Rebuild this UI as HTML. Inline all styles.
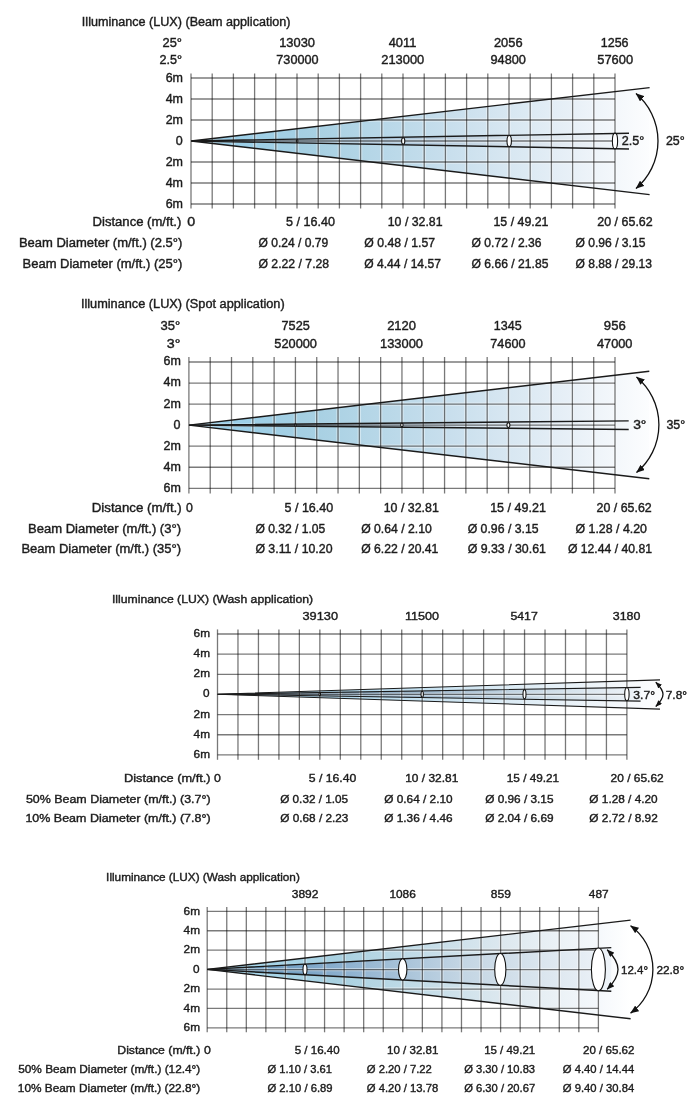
<!DOCTYPE html>
<html><head><meta charset="utf-8"><title>Illuminance charts</title>
<style>html,body{margin:0;padding:0;background:#fff;}
svg{display:block;}
text.s{font-size:11.8px;}
text{font-family:"Liberation Sans",Arial,sans-serif;font-size:12.5px;fill:#1c1c1c;stroke:#1c1c1c;stroke-width:0.4px;}
.gh{stroke:#000;stroke-opacity:0.52;stroke-width:1.3;}
.gv{stroke:#000;stroke-opacity:0.53;stroke-width:1.3;}
.halo line{stroke:#fff;stroke-width:3.4;stroke-opacity:0.4;}
.cl{stroke:#1a1a1a;fill:none;stroke-linejoin:miter;}
.el{fill:#fff;stroke:#111;stroke-width:1.1;}
.arc{stroke:#111;stroke-width:1.3;fill:none;}</style></head>
<body><svg width="700" height="1113" viewBox="0 0 700 1113">
<defs>
<linearGradient id="g1" gradientUnits="userSpaceOnUse" x1="190" y1="0" x2="650" y2="0">
<stop offset="0" stop-color="#96cbe6"/><stop offset="0.1" stop-color="#9ccfe8"/><stop offset="0.25" stop-color="#a5cfe2"/><stop offset="0.57" stop-color="#c9dfed"/><stop offset="0.83" stop-color="#e8f0f7"/><stop offset="0.92" stop-color="#f3f7fb"/><stop offset="1" stop-color="#fcfdfe"/></linearGradient>
<linearGradient id="ig1" gradientUnits="userSpaceOnUse" x1="190" y1="0" x2="630" y2="0">
<stop offset="0" stop-color="#7ea6c4"/><stop offset="0.4" stop-color="#9dbbd2"/><stop offset="0.75" stop-color="#d6e2ec"/><stop offset="1" stop-color="#f4f7fa"/></linearGradient>
<linearGradient id="g3" gradientUnits="userSpaceOnUse" x1="217" y1="0" x2="660" y2="0">
<stop offset="0" stop-color="#8cbcd8"/><stop offset="0.3" stop-color="#b3d9ed"/><stop offset="0.6" stop-color="#d6e8f3"/><stop offset="0.9" stop-color="#f3f7fb"/><stop offset="1" stop-color="#fcfdfe"/></linearGradient>
<linearGradient id="ig3" gradientUnits="userSpaceOnUse" x1="217" y1="0" x2="640" y2="0">
<stop offset="0" stop-color="#5a7f9e"/><stop offset="0.35" stop-color="#7b9cb8"/><stop offset="0.7" stop-color="#c2d4e2"/><stop offset="1" stop-color="#eef3f8"/></linearGradient>
<linearGradient id="g4" gradientUnits="userSpaceOnUse" x1="207" y1="0" x2="631" y2="0">
<stop offset="0" stop-color="#a6daf1"/><stop offset="0.3" stop-color="#a8d0e0"/><stop offset="0.7" stop-color="#dde8ef"/><stop offset="0.93" stop-color="#f6f9fc"/><stop offset="1" stop-color="#ffffff"/></linearGradient>
<linearGradient id="ig4" gradientUnits="userSpaceOnUse" x1="207" y1="0" x2="611" y2="0">
<stop offset="0" stop-color="#5a8cb4"/><stop offset="0.12" stop-color="#6496bc"/><stop offset="0.35" stop-color="#8fb2d0"/><stop offset="0.63" stop-color="#c3d5e3"/><stop offset="1" stop-color="#eef3f8"/></linearGradient>
<marker id="ah" viewBox="0 0 10 8" refX="9.5" refY="4" markerWidth="8.5" markerHeight="6.8" orient="auto-start-reverse" markerUnits="userSpaceOnUse"><path d="M0,0 L10,4 L0,8 z" fill="#111"/></marker>
<marker id="ah2" viewBox="0 0 10 8" refX="9.5" refY="4" markerWidth="7.5" markerHeight="6" orient="auto-start-reverse" markerUnits="userSpaceOnUse"><path d="M0,0 L10,4 L0,8 z" fill="#111"/></marker>
<marker id="ah3" viewBox="0 0 10 8" refX="9.5" refY="4" markerWidth="6.5" markerHeight="5.2" orient="auto-start-reverse" markerUnits="userSpaceOnUse"><path d="M0,0 L10,4 L0,8 z" fill="#111"/></marker>
</defs>
<rect width="700" height="1113" fill="#fff"/>
<clipPath id="cp0"><polygon points="191.20,141.00 649.60,87.60 649.60,194.60"/></clipPath>
<polygon points="191.20,141.00 649.60,87.60 649.60,194.60" fill="url(#g1)" stroke="none"/>
<polygon points="191.20,141.00 629.00,133.20 629.00,149.00" fill="url(#ig1)" stroke="none"/>
<g clip-path="url(#cp0)" class="halo">
<line x1="191.00" y1="78.00" x2="615.00" y2="78.00" class="gh"/>
<line x1="191.00" y1="99.00" x2="615.00" y2="99.00" class="gh"/>
<line x1="191.00" y1="120.00" x2="615.00" y2="120.00" class="gh"/>
<line x1="191.00" y1="141.00" x2="615.00" y2="141.00" class="gh"/>
<line x1="191.00" y1="162.00" x2="615.00" y2="162.00" class="gh"/>
<line x1="191.00" y1="183.00" x2="615.00" y2="183.00" class="gh"/>
<line x1="191.00" y1="204.00" x2="615.00" y2="204.00" class="gh"/>
<line x1="191.00" y1="73.50" x2="191.00" y2="208.50" class="gv"/>
<line x1="212.20" y1="73.50" x2="212.20" y2="208.50" class="gv"/>
<line x1="233.40" y1="73.50" x2="233.40" y2="208.50" class="gv"/>
<line x1="254.60" y1="73.50" x2="254.60" y2="208.50" class="gv"/>
<line x1="275.80" y1="73.50" x2="275.80" y2="208.50" class="gv"/>
<line x1="297.00" y1="73.50" x2="297.00" y2="208.50" class="gv"/>
<line x1="318.20" y1="73.50" x2="318.20" y2="208.50" class="gv"/>
<line x1="339.40" y1="73.50" x2="339.40" y2="208.50" class="gv"/>
<line x1="360.60" y1="73.50" x2="360.60" y2="208.50" class="gv"/>
<line x1="381.80" y1="73.50" x2="381.80" y2="208.50" class="gv"/>
<line x1="403.00" y1="73.50" x2="403.00" y2="208.50" class="gv"/>
<line x1="424.20" y1="73.50" x2="424.20" y2="208.50" class="gv"/>
<line x1="445.40" y1="73.50" x2="445.40" y2="208.50" class="gv"/>
<line x1="466.60" y1="73.50" x2="466.60" y2="208.50" class="gv"/>
<line x1="487.80" y1="73.50" x2="487.80" y2="208.50" class="gv"/>
<line x1="509.00" y1="73.50" x2="509.00" y2="208.50" class="gv"/>
<line x1="530.20" y1="73.50" x2="530.20" y2="208.50" class="gv"/>
<line x1="551.40" y1="73.50" x2="551.40" y2="208.50" class="gv"/>
<line x1="572.60" y1="73.50" x2="572.60" y2="208.50" class="gv"/>
<line x1="593.80" y1="73.50" x2="593.80" y2="208.50" class="gv"/>
<line x1="615.00" y1="73.50" x2="615.00" y2="208.50" class="gv"/>
</g>
<line x1="191.00" y1="78.00" x2="615.00" y2="78.00" class="gh"/>
<line x1="191.00" y1="99.00" x2="615.00" y2="99.00" class="gh"/>
<line x1="191.00" y1="120.00" x2="615.00" y2="120.00" class="gh"/>
<line x1="191.00" y1="141.00" x2="615.00" y2="141.00" class="gh"/>
<line x1="191.00" y1="162.00" x2="615.00" y2="162.00" class="gh"/>
<line x1="191.00" y1="183.00" x2="615.00" y2="183.00" class="gh"/>
<line x1="191.00" y1="204.00" x2="615.00" y2="204.00" class="gh"/>
<line x1="191.00" y1="73.50" x2="191.00" y2="208.50" class="gv"/>
<line x1="212.20" y1="73.50" x2="212.20" y2="208.50" class="gv"/>
<line x1="233.40" y1="73.50" x2="233.40" y2="208.50" class="gv"/>
<line x1="254.60" y1="73.50" x2="254.60" y2="208.50" class="gv"/>
<line x1="275.80" y1="73.50" x2="275.80" y2="208.50" class="gv"/>
<line x1="297.00" y1="73.50" x2="297.00" y2="208.50" class="gv"/>
<line x1="318.20" y1="73.50" x2="318.20" y2="208.50" class="gv"/>
<line x1="339.40" y1="73.50" x2="339.40" y2="208.50" class="gv"/>
<line x1="360.60" y1="73.50" x2="360.60" y2="208.50" class="gv"/>
<line x1="381.80" y1="73.50" x2="381.80" y2="208.50" class="gv"/>
<line x1="403.00" y1="73.50" x2="403.00" y2="208.50" class="gv"/>
<line x1="424.20" y1="73.50" x2="424.20" y2="208.50" class="gv"/>
<line x1="445.40" y1="73.50" x2="445.40" y2="208.50" class="gv"/>
<line x1="466.60" y1="73.50" x2="466.60" y2="208.50" class="gv"/>
<line x1="487.80" y1="73.50" x2="487.80" y2="208.50" class="gv"/>
<line x1="509.00" y1="73.50" x2="509.00" y2="208.50" class="gv"/>
<line x1="530.20" y1="73.50" x2="530.20" y2="208.50" class="gv"/>
<line x1="551.40" y1="73.50" x2="551.40" y2="208.50" class="gv"/>
<line x1="572.60" y1="73.50" x2="572.60" y2="208.50" class="gv"/>
<line x1="593.80" y1="73.50" x2="593.80" y2="208.50" class="gv"/>
<line x1="615.00" y1="73.50" x2="615.00" y2="208.50" class="gv"/>
<path d="M649.60,87.60 L191.20,141.00 L649.60,194.60" class="cl" stroke-width="1.45"/>
<path d="M629.00,133.20 L191.20,141.00 L629.00,149.00" class="cl" stroke-width="1.45"/>
<ellipse cx="297.10" cy="141.00" rx="0.80" ry="1.40" class="el"/>
<ellipse cx="403.20" cy="141.00" rx="1.60" ry="3.20" class="el"/>
<ellipse cx="509.20" cy="141.00" rx="2.20" ry="5.50" class="el"/>
<ellipse cx="615.00" cy="141.00" rx="2.60" ry="7.90" class="el"/>
<path d="M636.00,93.60 A62.17,62.17 0 0 1 636.00,188.50" class="arc" marker-start="url(#ah)" marker-end="url(#ah)"/>
<clipPath id="cp1"><polygon points="189.00,425.10 649.30,371.30 649.30,478.70"/></clipPath>
<polygon points="189.00,425.10 649.30,371.30 649.30,478.70" fill="url(#g1)" stroke="none"/>
<polygon points="189.00,425.10 628.70,420.90 628.70,429.50" fill="url(#ig1)" stroke="none"/>
<g clip-path="url(#cp1)" class="halo">
<line x1="188.90" y1="362.00" x2="615.00" y2="362.00" class="gh"/>
<line x1="188.90" y1="383.05" x2="615.00" y2="383.05" class="gh"/>
<line x1="188.90" y1="404.10" x2="615.00" y2="404.10" class="gh"/>
<line x1="188.90" y1="425.15" x2="615.00" y2="425.15" class="gh"/>
<line x1="188.90" y1="446.20" x2="615.00" y2="446.20" class="gh"/>
<line x1="188.90" y1="467.25" x2="615.00" y2="467.25" class="gh"/>
<line x1="188.90" y1="488.30" x2="615.00" y2="488.30" class="gh"/>
<line x1="188.90" y1="357.00" x2="188.90" y2="493.50" class="gv"/>
<line x1="210.21" y1="357.00" x2="210.21" y2="493.50" class="gv"/>
<line x1="231.51" y1="357.00" x2="231.51" y2="493.50" class="gv"/>
<line x1="252.81" y1="357.00" x2="252.81" y2="493.50" class="gv"/>
<line x1="274.12" y1="357.00" x2="274.12" y2="493.50" class="gv"/>
<line x1="295.43" y1="357.00" x2="295.43" y2="493.50" class="gv"/>
<line x1="316.73" y1="357.00" x2="316.73" y2="493.50" class="gv"/>
<line x1="338.03" y1="357.00" x2="338.03" y2="493.50" class="gv"/>
<line x1="359.34" y1="357.00" x2="359.34" y2="493.50" class="gv"/>
<line x1="380.64" y1="357.00" x2="380.64" y2="493.50" class="gv"/>
<line x1="401.95" y1="357.00" x2="401.95" y2="493.50" class="gv"/>
<line x1="423.25" y1="357.00" x2="423.25" y2="493.50" class="gv"/>
<line x1="444.56" y1="357.00" x2="444.56" y2="493.50" class="gv"/>
<line x1="465.87" y1="357.00" x2="465.87" y2="493.50" class="gv"/>
<line x1="487.17" y1="357.00" x2="487.17" y2="493.50" class="gv"/>
<line x1="508.48" y1="357.00" x2="508.48" y2="493.50" class="gv"/>
<line x1="529.78" y1="357.00" x2="529.78" y2="493.50" class="gv"/>
<line x1="551.09" y1="357.00" x2="551.09" y2="493.50" class="gv"/>
<line x1="572.39" y1="357.00" x2="572.39" y2="493.50" class="gv"/>
<line x1="593.70" y1="357.00" x2="593.70" y2="493.50" class="gv"/>
<line x1="615.00" y1="357.00" x2="615.00" y2="493.50" class="gv"/>
</g>
<line x1="188.90" y1="362.00" x2="615.00" y2="362.00" class="gh"/>
<line x1="188.90" y1="383.05" x2="615.00" y2="383.05" class="gh"/>
<line x1="188.90" y1="404.10" x2="615.00" y2="404.10" class="gh"/>
<line x1="188.90" y1="425.15" x2="615.00" y2="425.15" class="gh"/>
<line x1="188.90" y1="446.20" x2="615.00" y2="446.20" class="gh"/>
<line x1="188.90" y1="467.25" x2="615.00" y2="467.25" class="gh"/>
<line x1="188.90" y1="488.30" x2="615.00" y2="488.30" class="gh"/>
<line x1="188.90" y1="357.00" x2="188.90" y2="493.50" class="gv"/>
<line x1="210.21" y1="357.00" x2="210.21" y2="493.50" class="gv"/>
<line x1="231.51" y1="357.00" x2="231.51" y2="493.50" class="gv"/>
<line x1="252.81" y1="357.00" x2="252.81" y2="493.50" class="gv"/>
<line x1="274.12" y1="357.00" x2="274.12" y2="493.50" class="gv"/>
<line x1="295.43" y1="357.00" x2="295.43" y2="493.50" class="gv"/>
<line x1="316.73" y1="357.00" x2="316.73" y2="493.50" class="gv"/>
<line x1="338.03" y1="357.00" x2="338.03" y2="493.50" class="gv"/>
<line x1="359.34" y1="357.00" x2="359.34" y2="493.50" class="gv"/>
<line x1="380.64" y1="357.00" x2="380.64" y2="493.50" class="gv"/>
<line x1="401.95" y1="357.00" x2="401.95" y2="493.50" class="gv"/>
<line x1="423.25" y1="357.00" x2="423.25" y2="493.50" class="gv"/>
<line x1="444.56" y1="357.00" x2="444.56" y2="493.50" class="gv"/>
<line x1="465.87" y1="357.00" x2="465.87" y2="493.50" class="gv"/>
<line x1="487.17" y1="357.00" x2="487.17" y2="493.50" class="gv"/>
<line x1="508.48" y1="357.00" x2="508.48" y2="493.50" class="gv"/>
<line x1="529.78" y1="357.00" x2="529.78" y2="493.50" class="gv"/>
<line x1="551.09" y1="357.00" x2="551.09" y2="493.50" class="gv"/>
<line x1="572.39" y1="357.00" x2="572.39" y2="493.50" class="gv"/>
<line x1="593.70" y1="357.00" x2="593.70" y2="493.50" class="gv"/>
<line x1="615.00" y1="357.00" x2="615.00" y2="493.50" class="gv"/>
<path d="M649.30,371.30 L189.00,425.10 L649.30,478.70" class="cl" stroke-width="1.45"/>
<path d="M628.70,420.90 L189.00,425.10 L628.70,429.50" class="cl" stroke-width="1.45"/>
<ellipse cx="295.40" cy="425.10" rx="0.80" ry="1.20" class="el"/>
<ellipse cx="401.90" cy="425.10" rx="1.20" ry="1.80" class="el"/>
<ellipse cx="508.40" cy="425.10" rx="1.50" ry="2.40" class="el"/>
<path d="M636.50,377.00 A62.09,62.09 0 0 1 636.50,472.50" class="arc" marker-start="url(#ah)" marker-end="url(#ah)"/>
<clipPath id="cp2"><polygon points="217.50,694.20 660.00,679.90 660.00,709.10"/></clipPath>
<polygon points="217.50,694.20 660.00,679.90 660.00,709.10" fill="url(#g3)" stroke="none"/>
<polygon points="217.50,694.20 640.60,687.40 640.60,701.10" fill="url(#ig3)" stroke="none"/>
<g clip-path="url(#cp2)" class="halo">
<line x1="217.50" y1="634.00" x2="626.90" y2="634.00" class="gh"/>
<line x1="217.50" y1="654.15" x2="626.90" y2="654.15" class="gh"/>
<line x1="217.50" y1="674.30" x2="626.90" y2="674.30" class="gh"/>
<line x1="217.50" y1="694.45" x2="626.90" y2="694.45" class="gh"/>
<line x1="217.50" y1="714.60" x2="626.90" y2="714.60" class="gh"/>
<line x1="217.50" y1="734.75" x2="626.90" y2="734.75" class="gh"/>
<line x1="217.50" y1="754.90" x2="626.90" y2="754.90" class="gh"/>
<line x1="217.50" y1="629.40" x2="217.50" y2="759.80" class="gv"/>
<line x1="237.97" y1="629.40" x2="237.97" y2="759.80" class="gv"/>
<line x1="258.44" y1="629.40" x2="258.44" y2="759.80" class="gv"/>
<line x1="278.91" y1="629.40" x2="278.91" y2="759.80" class="gv"/>
<line x1="299.38" y1="629.40" x2="299.38" y2="759.80" class="gv"/>
<line x1="319.85" y1="629.40" x2="319.85" y2="759.80" class="gv"/>
<line x1="340.32" y1="629.40" x2="340.32" y2="759.80" class="gv"/>
<line x1="360.79" y1="629.40" x2="360.79" y2="759.80" class="gv"/>
<line x1="381.26" y1="629.40" x2="381.26" y2="759.80" class="gv"/>
<line x1="401.73" y1="629.40" x2="401.73" y2="759.80" class="gv"/>
<line x1="422.20" y1="629.40" x2="422.20" y2="759.80" class="gv"/>
<line x1="442.67" y1="629.40" x2="442.67" y2="759.80" class="gv"/>
<line x1="463.14" y1="629.40" x2="463.14" y2="759.80" class="gv"/>
<line x1="483.61" y1="629.40" x2="483.61" y2="759.80" class="gv"/>
<line x1="504.08" y1="629.40" x2="504.08" y2="759.80" class="gv"/>
<line x1="524.55" y1="629.40" x2="524.55" y2="759.80" class="gv"/>
<line x1="545.02" y1="629.40" x2="545.02" y2="759.80" class="gv"/>
<line x1="565.49" y1="629.40" x2="565.49" y2="759.80" class="gv"/>
<line x1="585.96" y1="629.40" x2="585.96" y2="759.80" class="gv"/>
<line x1="606.43" y1="629.40" x2="606.43" y2="759.80" class="gv"/>
<line x1="626.90" y1="629.40" x2="626.90" y2="759.80" class="gv"/>
</g>
<line x1="217.50" y1="634.00" x2="626.90" y2="634.00" class="gh"/>
<line x1="217.50" y1="654.15" x2="626.90" y2="654.15" class="gh"/>
<line x1="217.50" y1="674.30" x2="626.90" y2="674.30" class="gh"/>
<line x1="217.50" y1="694.45" x2="626.90" y2="694.45" class="gh"/>
<line x1="217.50" y1="714.60" x2="626.90" y2="714.60" class="gh"/>
<line x1="217.50" y1="734.75" x2="626.90" y2="734.75" class="gh"/>
<line x1="217.50" y1="754.90" x2="626.90" y2="754.90" class="gh"/>
<line x1="217.50" y1="629.40" x2="217.50" y2="759.80" class="gv"/>
<line x1="237.97" y1="629.40" x2="237.97" y2="759.80" class="gv"/>
<line x1="258.44" y1="629.40" x2="258.44" y2="759.80" class="gv"/>
<line x1="278.91" y1="629.40" x2="278.91" y2="759.80" class="gv"/>
<line x1="299.38" y1="629.40" x2="299.38" y2="759.80" class="gv"/>
<line x1="319.85" y1="629.40" x2="319.85" y2="759.80" class="gv"/>
<line x1="340.32" y1="629.40" x2="340.32" y2="759.80" class="gv"/>
<line x1="360.79" y1="629.40" x2="360.79" y2="759.80" class="gv"/>
<line x1="381.26" y1="629.40" x2="381.26" y2="759.80" class="gv"/>
<line x1="401.73" y1="629.40" x2="401.73" y2="759.80" class="gv"/>
<line x1="422.20" y1="629.40" x2="422.20" y2="759.80" class="gv"/>
<line x1="442.67" y1="629.40" x2="442.67" y2="759.80" class="gv"/>
<line x1="463.14" y1="629.40" x2="463.14" y2="759.80" class="gv"/>
<line x1="483.61" y1="629.40" x2="483.61" y2="759.80" class="gv"/>
<line x1="504.08" y1="629.40" x2="504.08" y2="759.80" class="gv"/>
<line x1="524.55" y1="629.40" x2="524.55" y2="759.80" class="gv"/>
<line x1="545.02" y1="629.40" x2="545.02" y2="759.80" class="gv"/>
<line x1="565.49" y1="629.40" x2="565.49" y2="759.80" class="gv"/>
<line x1="585.96" y1="629.40" x2="585.96" y2="759.80" class="gv"/>
<line x1="606.43" y1="629.40" x2="606.43" y2="759.80" class="gv"/>
<line x1="626.90" y1="629.40" x2="626.90" y2="759.80" class="gv"/>
<path d="M660.00,679.90 L217.50,694.20 L660.00,709.10" class="cl" stroke-width="1.1"/>
<path d="M640.60,687.40 L217.50,694.20 L640.60,701.10" class="cl" stroke-width="1.1"/>
<ellipse cx="319.80" cy="694.20" rx="0.80" ry="1.60" class="el"/>
<ellipse cx="422.20" cy="694.20" rx="1.20" ry="3.00" class="el"/>
<ellipse cx="524.50" cy="694.20" rx="1.50" ry="4.60" class="el"/>
<ellipse cx="626.90" cy="694.20" rx="2.20" ry="6.50" class="el"/>
<path d="M655.80,682.20 C665.40,691.80 665.40,696.90 655.80,706.50" class="arc" marker-start="url(#ah3)" marker-end="url(#ah3)"/>
<clipPath id="cp3"><polygon points="207.20,969.40 630.60,920.10 630.60,1018.80"/></clipPath>
<polygon points="207.20,969.40 630.60,920.10 630.60,1018.80" fill="url(#g4)" stroke="none"/>
<polygon points="207.20,969.40 611.30,947.60 611.30,991.30" fill="url(#ig4)" stroke="none"/>
<g clip-path="url(#cp3)" class="halo">
<line x1="207.20" y1="911.30" x2="598.40" y2="911.30" class="gh"/>
<line x1="207.20" y1="930.73" x2="598.40" y2="930.73" class="gh"/>
<line x1="207.20" y1="950.17" x2="598.40" y2="950.17" class="gh"/>
<line x1="207.20" y1="969.60" x2="598.40" y2="969.60" class="gh"/>
<line x1="207.20" y1="989.03" x2="598.40" y2="989.03" class="gh"/>
<line x1="207.20" y1="1008.47" x2="598.40" y2="1008.47" class="gh"/>
<line x1="207.20" y1="1027.90" x2="598.40" y2="1027.90" class="gh"/>
<line x1="207.20" y1="906.90" x2="207.20" y2="1032.30" class="gv"/>
<line x1="226.76" y1="906.90" x2="226.76" y2="1032.30" class="gv"/>
<line x1="246.32" y1="906.90" x2="246.32" y2="1032.30" class="gv"/>
<line x1="265.88" y1="906.90" x2="265.88" y2="1032.30" class="gv"/>
<line x1="285.44" y1="906.90" x2="285.44" y2="1032.30" class="gv"/>
<line x1="305.00" y1="906.90" x2="305.00" y2="1032.30" class="gv"/>
<line x1="324.56" y1="906.90" x2="324.56" y2="1032.30" class="gv"/>
<line x1="344.12" y1="906.90" x2="344.12" y2="1032.30" class="gv"/>
<line x1="363.68" y1="906.90" x2="363.68" y2="1032.30" class="gv"/>
<line x1="383.24" y1="906.90" x2="383.24" y2="1032.30" class="gv"/>
<line x1="402.80" y1="906.90" x2="402.80" y2="1032.30" class="gv"/>
<line x1="422.36" y1="906.90" x2="422.36" y2="1032.30" class="gv"/>
<line x1="441.92" y1="906.90" x2="441.92" y2="1032.30" class="gv"/>
<line x1="461.48" y1="906.90" x2="461.48" y2="1032.30" class="gv"/>
<line x1="481.04" y1="906.90" x2="481.04" y2="1032.30" class="gv"/>
<line x1="500.60" y1="906.90" x2="500.60" y2="1032.30" class="gv"/>
<line x1="520.16" y1="906.90" x2="520.16" y2="1032.30" class="gv"/>
<line x1="539.72" y1="906.90" x2="539.72" y2="1032.30" class="gv"/>
<line x1="559.28" y1="906.90" x2="559.28" y2="1032.30" class="gv"/>
<line x1="578.84" y1="906.90" x2="578.84" y2="1032.30" class="gv"/>
<line x1="598.40" y1="906.90" x2="598.40" y2="1032.30" class="gv"/>
</g>
<line x1="207.20" y1="911.30" x2="598.40" y2="911.30" class="gh"/>
<line x1="207.20" y1="930.73" x2="598.40" y2="930.73" class="gh"/>
<line x1="207.20" y1="950.17" x2="598.40" y2="950.17" class="gh"/>
<line x1="207.20" y1="969.60" x2="598.40" y2="969.60" class="gh"/>
<line x1="207.20" y1="989.03" x2="598.40" y2="989.03" class="gh"/>
<line x1="207.20" y1="1008.47" x2="598.40" y2="1008.47" class="gh"/>
<line x1="207.20" y1="1027.90" x2="598.40" y2="1027.90" class="gh"/>
<line x1="207.20" y1="906.90" x2="207.20" y2="1032.30" class="gv"/>
<line x1="226.76" y1="906.90" x2="226.76" y2="1032.30" class="gv"/>
<line x1="246.32" y1="906.90" x2="246.32" y2="1032.30" class="gv"/>
<line x1="265.88" y1="906.90" x2="265.88" y2="1032.30" class="gv"/>
<line x1="285.44" y1="906.90" x2="285.44" y2="1032.30" class="gv"/>
<line x1="305.00" y1="906.90" x2="305.00" y2="1032.30" class="gv"/>
<line x1="324.56" y1="906.90" x2="324.56" y2="1032.30" class="gv"/>
<line x1="344.12" y1="906.90" x2="344.12" y2="1032.30" class="gv"/>
<line x1="363.68" y1="906.90" x2="363.68" y2="1032.30" class="gv"/>
<line x1="383.24" y1="906.90" x2="383.24" y2="1032.30" class="gv"/>
<line x1="402.80" y1="906.90" x2="402.80" y2="1032.30" class="gv"/>
<line x1="422.36" y1="906.90" x2="422.36" y2="1032.30" class="gv"/>
<line x1="441.92" y1="906.90" x2="441.92" y2="1032.30" class="gv"/>
<line x1="461.48" y1="906.90" x2="461.48" y2="1032.30" class="gv"/>
<line x1="481.04" y1="906.90" x2="481.04" y2="1032.30" class="gv"/>
<line x1="500.60" y1="906.90" x2="500.60" y2="1032.30" class="gv"/>
<line x1="520.16" y1="906.90" x2="520.16" y2="1032.30" class="gv"/>
<line x1="539.72" y1="906.90" x2="539.72" y2="1032.30" class="gv"/>
<line x1="559.28" y1="906.90" x2="559.28" y2="1032.30" class="gv"/>
<line x1="578.84" y1="906.90" x2="578.84" y2="1032.30" class="gv"/>
<line x1="598.40" y1="906.90" x2="598.40" y2="1032.30" class="gv"/>
<path d="M630.60,920.10 L207.20,969.40 L630.60,1018.80" class="cl" stroke-width="1.45"/>
<path d="M611.30,947.60 L207.20,969.40 L611.30,991.30" class="cl" stroke-width="1.45"/>
<ellipse cx="305.00" cy="969.40" rx="2.00" ry="5.20" class="el"/>
<ellipse cx="402.70" cy="969.40" rx="4.20" ry="10.60" class="el"/>
<ellipse cx="500.30" cy="969.40" rx="5.60" ry="15.90" class="el"/>
<ellipse cx="598.40" cy="969.40" rx="7.00" ry="21.40" class="el"/>
<path d="M607.20,949.80 C621.60,964.20 621.60,974.80 607.20,989.20" class="arc" marker-start="url(#ah2)" marker-end="url(#ah2)"/>
<path d="M630.60,925.70 A53.97,53.97 0 0 1 630.60,1013.10" class="arc" marker-start="url(#ah)" marker-end="url(#ah)"/>
<text x="165.66" y="81.50" textLength="17.36" lengthAdjust="spacingAndGlyphs">6m</text>
<text x="165.66" y="102.50" textLength="17.36" lengthAdjust="spacingAndGlyphs">4m</text>
<text x="165.66" y="123.50" textLength="17.36" lengthAdjust="spacingAndGlyphs">2m</text>
<text x="175.74" y="144.50" textLength="6.95" lengthAdjust="spacingAndGlyphs">0</text>
<text x="165.66" y="165.50" textLength="17.36" lengthAdjust="spacingAndGlyphs">2m</text>
<text x="165.66" y="186.50" textLength="17.36" lengthAdjust="spacingAndGlyphs">4m</text>
<text x="165.66" y="207.50" textLength="17.36" lengthAdjust="spacingAndGlyphs">6m</text>
<text x="621.77" y="145.30" textLength="22.59" lengthAdjust="spacingAndGlyphs">2.5°</text>
<text x="665.98" y="145.30" textLength="18.77" lengthAdjust="spacingAndGlyphs">25°</text>
<text x="163.46" y="365.40" textLength="17.36" lengthAdjust="spacingAndGlyphs">6m</text>
<text x="163.46" y="386.45" textLength="17.36" lengthAdjust="spacingAndGlyphs">4m</text>
<text x="163.46" y="407.50" textLength="17.36" lengthAdjust="spacingAndGlyphs">2m</text>
<text x="173.54" y="428.55" textLength="6.95" lengthAdjust="spacingAndGlyphs">0</text>
<text x="163.46" y="449.60" textLength="17.36" lengthAdjust="spacingAndGlyphs">2m</text>
<text x="163.46" y="470.65" textLength="17.36" lengthAdjust="spacingAndGlyphs">4m</text>
<text x="163.46" y="491.70" textLength="17.36" lengthAdjust="spacingAndGlyphs">6m</text>
<text x="633.17" y="429.40" textLength="13.26" lengthAdjust="spacingAndGlyphs">3°</text>
<text x="666.43" y="429.40" textLength="18.82" lengthAdjust="spacingAndGlyphs">35°</text>
<text class="s" x="193.59" y="637.00" textLength="16.39" lengthAdjust="spacingAndGlyphs">6m</text>
<text class="s" x="193.59" y="657.15" textLength="16.39" lengthAdjust="spacingAndGlyphs">4m</text>
<text class="s" x="193.59" y="677.30" textLength="16.39" lengthAdjust="spacingAndGlyphs">2m</text>
<text class="s" x="203.10" y="697.45" textLength="6.56" lengthAdjust="spacingAndGlyphs">0</text>
<text class="s" x="193.59" y="717.60" textLength="16.39" lengthAdjust="spacingAndGlyphs">2m</text>
<text class="s" x="193.59" y="737.75" textLength="16.39" lengthAdjust="spacingAndGlyphs">4m</text>
<text class="s" x="193.59" y="757.90" textLength="16.39" lengthAdjust="spacingAndGlyphs">6m</text>
<text class="s" x="633.24" y="698.50" textLength="21.79" lengthAdjust="spacingAndGlyphs">3.7°</text>
<text class="s" x="665.79" y="698.50" textLength="21.22" lengthAdjust="spacingAndGlyphs">7.8°</text>
<text class="s" x="183.59" y="914.50" textLength="16.39" lengthAdjust="spacingAndGlyphs">6m</text>
<text class="s" x="183.59" y="933.93" textLength="16.39" lengthAdjust="spacingAndGlyphs">4m</text>
<text class="s" x="183.59" y="953.37" textLength="16.39" lengthAdjust="spacingAndGlyphs">2m</text>
<text class="s" x="193.10" y="972.80" textLength="6.56" lengthAdjust="spacingAndGlyphs">0</text>
<text class="s" x="183.59" y="992.23" textLength="16.39" lengthAdjust="spacingAndGlyphs">2m</text>
<text class="s" x="183.59" y="1011.67" textLength="16.39" lengthAdjust="spacingAndGlyphs">4m</text>
<text class="s" x="183.59" y="1031.10" textLength="16.39" lengthAdjust="spacingAndGlyphs">6m</text>
<text class="s" x="621.02" y="973.70" textLength="26.97" lengthAdjust="spacingAndGlyphs">12.4°</text>
<text class="s" x="656.40" y="973.70" textLength="27.81" lengthAdjust="spacingAndGlyphs">22.8°</text>
<text x="81.84" y="25.90" textLength="208.64" lengthAdjust="spacingAndGlyphs">Illuminance (LUX) (Beam application)</text>
<text x="162.55" y="46.80" textLength="19.42" lengthAdjust="spacingAndGlyphs">25°</text>
<text x="279.22" y="46.80" textLength="35.78" lengthAdjust="spacingAndGlyphs">13030</text>
<text x="388.72" y="46.80" textLength="27.59" lengthAdjust="spacingAndGlyphs">4011</text>
<text x="493.95" y="46.80" textLength="28.61" lengthAdjust="spacingAndGlyphs">2056</text>
<text x="600.75" y="46.80" textLength="27.80" lengthAdjust="spacingAndGlyphs">1256</text>
<text x="159.57" y="63.80" textLength="22.59" lengthAdjust="spacingAndGlyphs">2.5°</text>
<text x="276.35" y="63.80" textLength="42.14" lengthAdjust="spacingAndGlyphs">730000</text>
<text x="381.25" y="63.80" textLength="42.95" lengthAdjust="spacingAndGlyphs">213000</text>
<text x="490.50" y="63.80" textLength="35.39" lengthAdjust="spacingAndGlyphs">94800</text>
<text x="597.28" y="63.80" textLength="35.82" lengthAdjust="spacingAndGlyphs">57600</text>
<text x="92.53" y="226.30" textLength="88.79" lengthAdjust="spacingAndGlyphs">Distance (m/ft.)</text>
<text x="187.24" y="226.30" textLength="7.91" lengthAdjust="spacingAndGlyphs">0</text>
<text x="286.00" y="226.30" textLength="49.00" lengthAdjust="spacingAndGlyphs">5 / 16.40</text>
<text x="387.76" y="226.30" textLength="54.84" lengthAdjust="spacingAndGlyphs">10 / 32.81</text>
<text x="493.46" y="226.30" textLength="55.05" lengthAdjust="spacingAndGlyphs">15 / 49.21</text>
<text x="597.27" y="226.30" textLength="55.45" lengthAdjust="spacingAndGlyphs">20 / 65.62</text>
<text x="18.93" y="246.60" textLength="163.37" lengthAdjust="spacingAndGlyphs">Beam Diameter (m/ft.) (2.5°)</text>
<text x="258.48" y="246.60" textLength="69.69" lengthAdjust="spacingAndGlyphs">Ø 0.24 / 0.79</text>
<text x="364.28" y="246.60" textLength="70.74" lengthAdjust="spacingAndGlyphs">Ø 0.48 / 1.57</text>
<text x="471.58" y="246.60" textLength="69.95" lengthAdjust="spacingAndGlyphs">Ø 0.72 / 2.36</text>
<text x="575.48" y="246.60" textLength="69.93" lengthAdjust="spacingAndGlyphs">Ø 0.96 / 3.15</text>
<text x="22.53" y="267.50" textLength="159.77" lengthAdjust="spacingAndGlyphs">Beam Diameter (m/ft.) (25°)</text>
<text x="258.48" y="267.50" textLength="70.65" lengthAdjust="spacingAndGlyphs">Ø 2.22 / 7.28</text>
<text x="364.28" y="267.50" textLength="76.63" lengthAdjust="spacingAndGlyphs">Ø 4.44 / 14.57</text>
<text x="471.58" y="267.50" textLength="76.83" lengthAdjust="spacingAndGlyphs">Ø 6.66 / 21.85</text>
<text x="575.48" y="267.50" textLength="76.45" lengthAdjust="spacingAndGlyphs">Ø 8.88 / 29.13</text>
<text x="80.93" y="308.30" textLength="203.76" lengthAdjust="spacingAndGlyphs">Illuminance (LUX) (Spot application)</text>
<text x="160.60" y="330.20" textLength="19.68" lengthAdjust="spacingAndGlyphs">35°</text>
<text x="281.55" y="330.20" textLength="28.18" lengthAdjust="spacingAndGlyphs">7525</text>
<text x="387.15" y="330.20" textLength="28.86" lengthAdjust="spacingAndGlyphs">2120</text>
<text x="493.85" y="330.20" textLength="27.88" lengthAdjust="spacingAndGlyphs">1345</text>
<text x="603.88" y="330.20" textLength="21.89" lengthAdjust="spacingAndGlyphs">956</text>
<text x="166.76" y="347.50" textLength="13.60" lengthAdjust="spacingAndGlyphs">3°</text>
<text x="274.29" y="347.50" textLength="42.71" lengthAdjust="spacingAndGlyphs">520000</text>
<text x="380.02" y="347.50" textLength="42.98" lengthAdjust="spacingAndGlyphs">133000</text>
<text x="490.35" y="347.50" textLength="35.14" lengthAdjust="spacingAndGlyphs">74600</text>
<text x="596.91" y="347.50" textLength="35.59" lengthAdjust="spacingAndGlyphs">47000</text>
<text x="91.71" y="512.10" textLength="90.01" lengthAdjust="spacingAndGlyphs">Distance (m/ft.)</text>
<text x="186.02" y="512.10" textLength="6.86" lengthAdjust="spacingAndGlyphs">0</text>
<text x="284.50" y="512.10" textLength="48.69" lengthAdjust="spacingAndGlyphs">5 / 16.40</text>
<text x="383.66" y="512.10" textLength="55.15" lengthAdjust="spacingAndGlyphs">10 / 32.81</text>
<text x="490.15" y="512.10" textLength="55.77" lengthAdjust="spacingAndGlyphs">15 / 49.21</text>
<text x="596.58" y="512.10" textLength="55.15" lengthAdjust="spacingAndGlyphs">20 / 65.62</text>
<text x="28.03" y="532.80" textLength="152.98" lengthAdjust="spacingAndGlyphs">Beam Diameter (m/ft.) (3°)</text>
<text x="255.38" y="532.80" textLength="69.93" lengthAdjust="spacingAndGlyphs">Ø 0.32 / 1.05</text>
<text x="361.18" y="532.80" textLength="70.60" lengthAdjust="spacingAndGlyphs">Ø 0.64 / 2.10</text>
<text x="467.67" y="532.80" textLength="70.94" lengthAdjust="spacingAndGlyphs">Ø 0.96 / 3.15</text>
<text x="575.47" y="532.80" textLength="71.51" lengthAdjust="spacingAndGlyphs">Ø 1.28 / 4.20</text>
<text x="21.44" y="552.50" textLength="159.57" lengthAdjust="spacingAndGlyphs">Beam Diameter (m/ft.) (35°)</text>
<text x="255.38" y="552.50" textLength="77.10" lengthAdjust="spacingAndGlyphs">Ø 3.11 / 10.20</text>
<text x="361.18" y="552.50" textLength="77.22" lengthAdjust="spacingAndGlyphs">Ø 6.22 / 20.41</text>
<text x="467.67" y="552.50" textLength="78.23" lengthAdjust="spacingAndGlyphs">Ø 9.33 / 30.61</text>
<text x="567.88" y="552.50" textLength="84.12" lengthAdjust="spacingAndGlyphs">Ø 12.44 / 40.81</text>
<text class="s" x="111.98" y="603.10" textLength="201.08" lengthAdjust="spacingAndGlyphs">Illuminance (LUX) (Wash application)</text>
<text class="s" x="302.51" y="620.40" textLength="35.48" lengthAdjust="spacingAndGlyphs">39130</text>
<text class="s" x="404.97" y="620.40" textLength="34.11" lengthAdjust="spacingAndGlyphs">11500</text>
<text class="s" x="510.41" y="620.40" textLength="27.31" lengthAdjust="spacingAndGlyphs">5417</text>
<text class="s" x="612.73" y="620.40" textLength="27.66" lengthAdjust="spacingAndGlyphs">3180</text>
<text class="s" x="123.95" y="782.10" textLength="86.64" lengthAdjust="spacingAndGlyphs">Distance (m/ft.)</text>
<text class="s" x="213.92" y="782.10" textLength="6.86" lengthAdjust="spacingAndGlyphs">0</text>
<text class="s" x="308.71" y="782.10" textLength="47.57" lengthAdjust="spacingAndGlyphs">5 / 16.40</text>
<text class="s" x="405.19" y="782.10" textLength="53.09" lengthAdjust="spacingAndGlyphs">10 / 32.81</text>
<text class="s" x="506.80" y="782.10" textLength="52.37" lengthAdjust="spacingAndGlyphs">15 / 49.21</text>
<text class="s" x="610.60" y="782.10" textLength="53.10" lengthAdjust="spacingAndGlyphs">20 / 65.62</text>
<text class="s" x="25.90" y="802.80" textLength="184.67" lengthAdjust="spacingAndGlyphs">50% Beam Diameter (m/ft.) (3.7°)</text>
<text class="s" x="280.19" y="802.80" textLength="67.90" lengthAdjust="spacingAndGlyphs">Ø 0.32 / 1.05</text>
<text class="s" x="384.29" y="802.80" textLength="68.27" lengthAdjust="spacingAndGlyphs">Ø 0.64 / 2.10</text>
<text class="s" x="485.19" y="802.80" textLength="68.31" lengthAdjust="spacingAndGlyphs">Ø 0.96 / 3.15</text>
<text class="s" x="589.39" y="802.80" textLength="68.27" lengthAdjust="spacingAndGlyphs">Ø 1.28 / 4.20</text>
<text class="s" x="25.45" y="821.50" textLength="185.12" lengthAdjust="spacingAndGlyphs">10% Beam Diameter (m/ft.) (7.8°)</text>
<text class="s" x="280.19" y="821.50" textLength="68.23" lengthAdjust="spacingAndGlyphs">Ø 0.68 / 2.23</text>
<text class="s" x="384.29" y="821.50" textLength="68.33" lengthAdjust="spacingAndGlyphs">Ø 1.36 / 4.46</text>
<text class="s" x="485.19" y="821.50" textLength="68.37" lengthAdjust="spacingAndGlyphs">Ø 2.04 / 6.69</text>
<text class="s" x="589.39" y="821.50" textLength="68.41" lengthAdjust="spacingAndGlyphs">Ø 2.72 / 8.92</text>
<text class="s" x="106.12" y="881.40" textLength="193.71" lengthAdjust="spacingAndGlyphs">Illuminance (LUX) (Wash application)</text>
<text class="s" x="291.74" y="898.40" textLength="26.76" lengthAdjust="spacingAndGlyphs">3892</text>
<text class="s" x="389.40" y="898.40" textLength="26.43" lengthAdjust="spacingAndGlyphs">1086</text>
<text class="s" x="490.88" y="898.40" textLength="19.99" lengthAdjust="spacingAndGlyphs">859</text>
<text class="s" x="588.83" y="898.40" textLength="19.77" lengthAdjust="spacingAndGlyphs">487</text>
<text class="s" x="117.30" y="1053.70" textLength="82.96" lengthAdjust="spacingAndGlyphs">Distance (m/ft.)</text>
<text class="s" x="203.92" y="1053.70" textLength="6.86" lengthAdjust="spacingAndGlyphs">0</text>
<text class="s" x="294.74" y="1053.70" textLength="44.91" lengthAdjust="spacingAndGlyphs">5 / 16.40</text>
<text class="s" x="387.02" y="1053.70" textLength="51.34" lengthAdjust="spacingAndGlyphs">10 / 32.81</text>
<text class="s" x="484.13" y="1053.70" textLength="51.03" lengthAdjust="spacingAndGlyphs">15 / 49.21</text>
<text class="s" x="583.02" y="1053.70" textLength="51.46" lengthAdjust="spacingAndGlyphs">20 / 65.62</text>
<text class="s" x="18.23" y="1072.80" textLength="182.01" lengthAdjust="spacingAndGlyphs">50% Beam Diameter (m/ft.) (12.4°)</text>
<text class="s" x="267.51" y="1072.80" textLength="64.43" lengthAdjust="spacingAndGlyphs">Ø 1.10 / 3.61</text>
<text class="s" x="366.81" y="1072.80" textLength="65.06" lengthAdjust="spacingAndGlyphs">Ø 2.20 / 7.22</text>
<text class="s" x="464.21" y="1072.80" textLength="70.88" lengthAdjust="spacingAndGlyphs">Ø 3.30 / 10.83</text>
<text class="s" x="562.81" y="1072.80" textLength="71.42" lengthAdjust="spacingAndGlyphs">Ø 4.40 / 14.44</text>
<text class="s" x="17.80" y="1092.20" textLength="182.44" lengthAdjust="spacingAndGlyphs">10% Beam Diameter (m/ft.) (22.8°)</text>
<text class="s" x="267.51" y="1092.20" textLength="65.02" lengthAdjust="spacingAndGlyphs">Ø 2.10 / 6.89</text>
<text class="s" x="366.81" y="1092.20" textLength="71.48" lengthAdjust="spacingAndGlyphs">Ø 4.20 / 13.78</text>
<text class="s" x="464.21" y="1092.20" textLength="70.95" lengthAdjust="spacingAndGlyphs">Ø 6.30 / 20.67</text>
<text class="s" x="562.81" y="1092.20" textLength="71.42" lengthAdjust="spacingAndGlyphs">Ø 9.40 / 30.84</text>
</svg></body></html>
